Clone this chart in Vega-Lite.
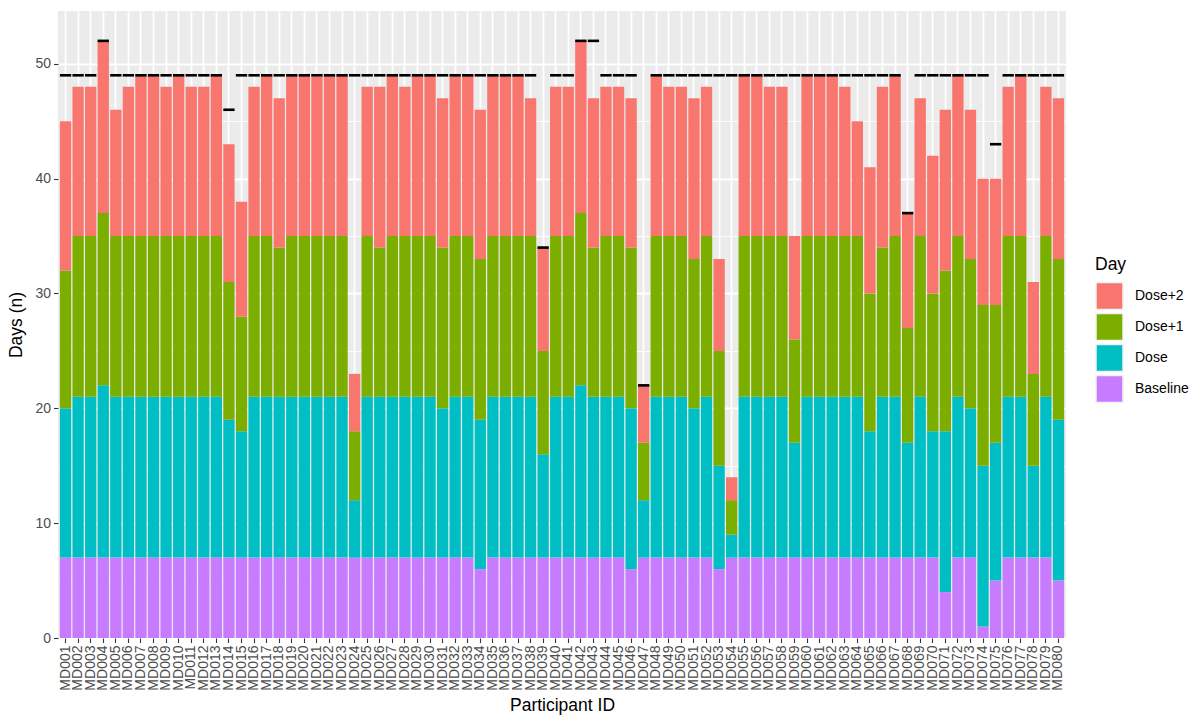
{
  "$schema": "https://vega.github.io/schema/vega-lite/v6.json",
  "width": 1008,
  "height": 627,
  "autosize": "none",
  "padding": {"left": 58, "top": 11, "right": 126, "bottom": 77},
  "background": "white",
  "data": {
    "values": [
      {"id": "MD001", "Baseline": 7, "Dose": 13, "Dose+1": 12, "Dose+2": 13, "expected": 49},
      {"id": "MD002", "Baseline": 7, "Dose": 14, "Dose+1": 14, "Dose+2": 13, "expected": 49},
      {"id": "MD003", "Baseline": 7, "Dose": 14, "Dose+1": 14, "Dose+2": 13, "expected": 49},
      {"id": "MD004", "Baseline": 7, "Dose": 15, "Dose+1": 15, "Dose+2": 15, "expected": 52},
      {"id": "MD005", "Baseline": 7, "Dose": 14, "Dose+1": 14, "Dose+2": 11, "expected": 49},
      {"id": "MD006", "Baseline": 7, "Dose": 14, "Dose+1": 14, "Dose+2": 13, "expected": 49},
      {"id": "MD007", "Baseline": 7, "Dose": 14, "Dose+1": 14, "Dose+2": 14, "expected": 49},
      {"id": "MD008", "Baseline": 7, "Dose": 14, "Dose+1": 14, "Dose+2": 14, "expected": 49},
      {"id": "MD009", "Baseline": 7, "Dose": 14, "Dose+1": 14, "Dose+2": 13, "expected": 49},
      {"id": "MD010", "Baseline": 7, "Dose": 14, "Dose+1": 14, "Dose+2": 14, "expected": 49},
      {"id": "MD011", "Baseline": 7, "Dose": 14, "Dose+1": 14, "Dose+2": 13, "expected": 49},
      {"id": "MD012", "Baseline": 7, "Dose": 14, "Dose+1": 14, "Dose+2": 13, "expected": 49},
      {"id": "MD013", "Baseline": 7, "Dose": 14, "Dose+1": 14, "Dose+2": 14, "expected": 49},
      {"id": "MD014", "Baseline": 7, "Dose": 12, "Dose+1": 12, "Dose+2": 12, "expected": 46},
      {"id": "MD015", "Baseline": 7, "Dose": 11, "Dose+1": 10, "Dose+2": 10, "expected": 49},
      {"id": "MD016", "Baseline": 7, "Dose": 14, "Dose+1": 14, "Dose+2": 13, "expected": 49},
      {"id": "MD017", "Baseline": 7, "Dose": 14, "Dose+1": 14, "Dose+2": 14, "expected": 49},
      {"id": "MD018", "Baseline": 7, "Dose": 14, "Dose+1": 13, "Dose+2": 13, "expected": 49},
      {"id": "MD019", "Baseline": 7, "Dose": 14, "Dose+1": 14, "Dose+2": 14, "expected": 49},
      {"id": "MD020", "Baseline": 7, "Dose": 14, "Dose+1": 14, "Dose+2": 14, "expected": 49},
      {"id": "MD021", "Baseline": 7, "Dose": 14, "Dose+1": 14, "Dose+2": 14, "expected": 49},
      {"id": "MD022", "Baseline": 7, "Dose": 14, "Dose+1": 14, "Dose+2": 14, "expected": 49},
      {"id": "MD023", "Baseline": 7, "Dose": 14, "Dose+1": 14, "Dose+2": 14, "expected": 49},
      {"id": "MD024", "Baseline": 7, "Dose": 5, "Dose+1": 6, "Dose+2": 5, "expected": 49},
      {"id": "MD025", "Baseline": 7, "Dose": 14, "Dose+1": 14, "Dose+2": 13, "expected": 49},
      {"id": "MD026", "Baseline": 7, "Dose": 14, "Dose+1": 13, "Dose+2": 14, "expected": 49},
      {"id": "MD027", "Baseline": 7, "Dose": 14, "Dose+1": 14, "Dose+2": 14, "expected": 49},
      {"id": "MD028", "Baseline": 7, "Dose": 14, "Dose+1": 14, "Dose+2": 13, "expected": 49},
      {"id": "MD029", "Baseline": 7, "Dose": 14, "Dose+1": 14, "Dose+2": 14, "expected": 49},
      {"id": "MD030", "Baseline": 7, "Dose": 14, "Dose+1": 14, "Dose+2": 14, "expected": 49},
      {"id": "MD031", "Baseline": 7, "Dose": 13, "Dose+1": 14, "Dose+2": 13, "expected": 49},
      {"id": "MD032", "Baseline": 7, "Dose": 14, "Dose+1": 14, "Dose+2": 14, "expected": 49},
      {"id": "MD033", "Baseline": 7, "Dose": 14, "Dose+1": 14, "Dose+2": 14, "expected": 49},
      {"id": "MD034", "Baseline": 6, "Dose": 13, "Dose+1": 14, "Dose+2": 13, "expected": 49},
      {"id": "MD035", "Baseline": 7, "Dose": 14, "Dose+1": 14, "Dose+2": 14, "expected": 49},
      {"id": "MD036", "Baseline": 7, "Dose": 14, "Dose+1": 14, "Dose+2": 14, "expected": 49},
      {"id": "MD037", "Baseline": 7, "Dose": 14, "Dose+1": 14, "Dose+2": 14, "expected": 49},
      {"id": "MD038", "Baseline": 7, "Dose": 14, "Dose+1": 14, "Dose+2": 12, "expected": 49},
      {"id": "MD039", "Baseline": 7, "Dose": 9, "Dose+1": 9, "Dose+2": 9, "expected": 34},
      {"id": "MD040", "Baseline": 7, "Dose": 14, "Dose+1": 14, "Dose+2": 13, "expected": 49},
      {"id": "MD041", "Baseline": 7, "Dose": 14, "Dose+1": 14, "Dose+2": 13, "expected": 49},
      {"id": "MD042", "Baseline": 7, "Dose": 15, "Dose+1": 15, "Dose+2": 15, "expected": 52},
      {"id": "MD043", "Baseline": 7, "Dose": 14, "Dose+1": 13, "Dose+2": 13, "expected": 52},
      {"id": "MD044", "Baseline": 7, "Dose": 14, "Dose+1": 14, "Dose+2": 13, "expected": 49},
      {"id": "MD045", "Baseline": 7, "Dose": 14, "Dose+1": 14, "Dose+2": 13, "expected": 49},
      {"id": "MD046", "Baseline": 6, "Dose": 14, "Dose+1": 14, "Dose+2": 13, "expected": 49},
      {"id": "MD047", "Baseline": 7, "Dose": 5, "Dose+1": 5, "Dose+2": 5, "expected": 22},
      {"id": "MD048", "Baseline": 7, "Dose": 14, "Dose+1": 14, "Dose+2": 14, "expected": 49},
      {"id": "MD049", "Baseline": 7, "Dose": 14, "Dose+1": 14, "Dose+2": 13, "expected": 49},
      {"id": "MD050", "Baseline": 7, "Dose": 14, "Dose+1": 14, "Dose+2": 13, "expected": 49},
      {"id": "MD051", "Baseline": 7, "Dose": 13, "Dose+1": 13, "Dose+2": 14, "expected": 49},
      {"id": "MD052", "Baseline": 7, "Dose": 14, "Dose+1": 14, "Dose+2": 13, "expected": 49},
      {"id": "MD053", "Baseline": 6, "Dose": 9, "Dose+1": 10, "Dose+2": 8, "expected": 49},
      {"id": "MD054", "Baseline": 7, "Dose": 2, "Dose+1": 3, "Dose+2": 2, "expected": 49},
      {"id": "MD055", "Baseline": 7, "Dose": 14, "Dose+1": 14, "Dose+2": 14, "expected": 49},
      {"id": "MD056", "Baseline": 7, "Dose": 14, "Dose+1": 14, "Dose+2": 14, "expected": 49},
      {"id": "MD057", "Baseline": 7, "Dose": 14, "Dose+1": 14, "Dose+2": 13, "expected": 49},
      {"id": "MD058", "Baseline": 7, "Dose": 14, "Dose+1": 14, "Dose+2": 13, "expected": 49},
      {"id": "MD059", "Baseline": 7, "Dose": 10, "Dose+1": 9, "Dose+2": 9, "expected": 49},
      {"id": "MD060", "Baseline": 7, "Dose": 14, "Dose+1": 14, "Dose+2": 14, "expected": 49},
      {"id": "MD061", "Baseline": 7, "Dose": 14, "Dose+1": 14, "Dose+2": 14, "expected": 49},
      {"id": "MD062", "Baseline": 7, "Dose": 14, "Dose+1": 14, "Dose+2": 14, "expected": 49},
      {"id": "MD063", "Baseline": 7, "Dose": 14, "Dose+1": 14, "Dose+2": 13, "expected": 49},
      {"id": "MD064", "Baseline": 7, "Dose": 14, "Dose+1": 14, "Dose+2": 10, "expected": 49},
      {"id": "MD065", "Baseline": 7, "Dose": 11, "Dose+1": 12, "Dose+2": 11, "expected": 49},
      {"id": "MD066", "Baseline": 7, "Dose": 14, "Dose+1": 13, "Dose+2": 14, "expected": 49},
      {"id": "MD067", "Baseline": 7, "Dose": 14, "Dose+1": 14, "Dose+2": 14, "expected": 49},
      {"id": "MD068", "Baseline": 7, "Dose": 10, "Dose+1": 10, "Dose+2": 10, "expected": 37},
      {"id": "MD069", "Baseline": 7, "Dose": 14, "Dose+1": 14, "Dose+2": 12, "expected": 49},
      {"id": "MD070", "Baseline": 7, "Dose": 11, "Dose+1": 12, "Dose+2": 12, "expected": 49},
      {"id": "MD071", "Baseline": 4, "Dose": 14, "Dose+1": 14, "Dose+2": 14, "expected": 49},
      {"id": "MD072", "Baseline": 7, "Dose": 14, "Dose+1": 14, "Dose+2": 14, "expected": 49},
      {"id": "MD073", "Baseline": 7, "Dose": 13, "Dose+1": 13, "Dose+2": 13, "expected": 49},
      {"id": "MD074", "Baseline": 1, "Dose": 14, "Dose+1": 14, "Dose+2": 11, "expected": 49},
      {"id": "MD075", "Baseline": 5, "Dose": 12, "Dose+1": 12, "Dose+2": 11, "expected": 43},
      {"id": "MD076", "Baseline": 7, "Dose": 14, "Dose+1": 14, "Dose+2": 13, "expected": 49},
      {"id": "MD077", "Baseline": 7, "Dose": 14, "Dose+1": 14, "Dose+2": 14, "expected": 49},
      {"id": "MD078", "Baseline": 7, "Dose": 8, "Dose+1": 8, "Dose+2": 8, "expected": 49},
      {"id": "MD079", "Baseline": 7, "Dose": 14, "Dose+1": 14, "Dose+2": 13, "expected": 49},
      {"id": "MD080", "Baseline": 5, "Dose": 14, "Dose+1": 14, "Dose+2": 14, "expected": 49}
    ]
  },
  "encoding": {
    "x": {
      "field": "id",
      "type": "nominal",
      "title": "Participant ID",
      "scale": {"paddingInner": 0.1, "paddingOuter": 0.15},
      "axis": {
        "labelAngle": -90,
        "labelAlign": "right",
        "labelBaseline": "middle",
        "labelPadding": 2.5,
        "grid": true,
        "titlePadding": 6
      }
    }
  },
  "layer": [
    {
      "transform": [
        {"fold": ["Baseline", "Dose", "Dose+1", "Dose+2"], "as": ["Day", "n"]}
      ],
      "mark": {"type": "bar"},
      "encoding": {
        "y": {
          "field": "n",
          "type": "quantitative",
          "stack": "zero",
          "title": "Days (n)",
          "scale": {"domain": [0, 54.6], "nice": false},
          "axis": {"orient": "left", "values": [0, 10, 20, 30, 40, 50], "grid": true, "titlePadding": 9}
        },
        "color": {
          "field": "Day",
          "type": "nominal",
          "scale": {
            "domain": ["Dose+2", "Dose+1", "Dose", "Baseline"],
            "range": ["#F8766D", "#7CAE00", "#00BFC4", "#C77CFF"]
          },
          "legend": {
            "orient": "none",
            "legendX": 1037,
            "legendY": 245,
            "title": "Day"
          }
        },
        "order": {"field": "Day", "sort": "ascending"}
      }
    },
    {
      "mark": {"type": "tick", "color": "#000000", "opacity": 1, "thickness": 2.6, "size": 11.3},
      "encoding": {
        "y": {
          "field": "expected",
          "type": "quantitative",
          "axis": {
            "orient": "right",
            "values": [5, 15, 25, 35, 45],
            "grid": true,
            "gridWidth": 0.9,
            "labels": false,
            "ticks": false,
            "domain": false,
            "title": null
          }
        }
      }
    }
  ],
  "config": {
    "font": "Liberation Sans",
    "view": {"fill": "#EBEBEB", "stroke": null},
    "axis": {
      "domain": false,
      "gridColor": "#FFFFFF",
      "gridWidth": 1.8,
      "tickColor": "#333333",
      "tickSize": 4.5,
      "tickWidth": 1.1,
      "labelColor": "#4D4D4D",
      "labelFontSize": 14,
      "labelFont": "Liberation Sans",
      "labelPadding": 3,
      "titleFont": "Liberation Sans",
      "titleFontSize": 17.5,
      "titleFontWeight": "normal",
      "titleColor": "#000000"
    },
    "legend": {
      "titleFont": "Liberation Sans",
      "titleFontSize": 17.5,
      "titleFontWeight": "normal",
      "titleColor": "#000000",
      "titlePadding": 8,
      "labelFont": "Liberation Sans",
      "labelFontSize": 14,
      "labelColor": "#000000",
      "labelOffset": 11,
      "symbolType": "square",
      "symbolSize": 729,
      "symbolStrokeColor": "#F2F2F2",
      "symbolStrokeWidth": 1.5,
      "symbolOpacity": 1,
      "rowPadding": -6,
      "padding": 0
    }
  }
}
